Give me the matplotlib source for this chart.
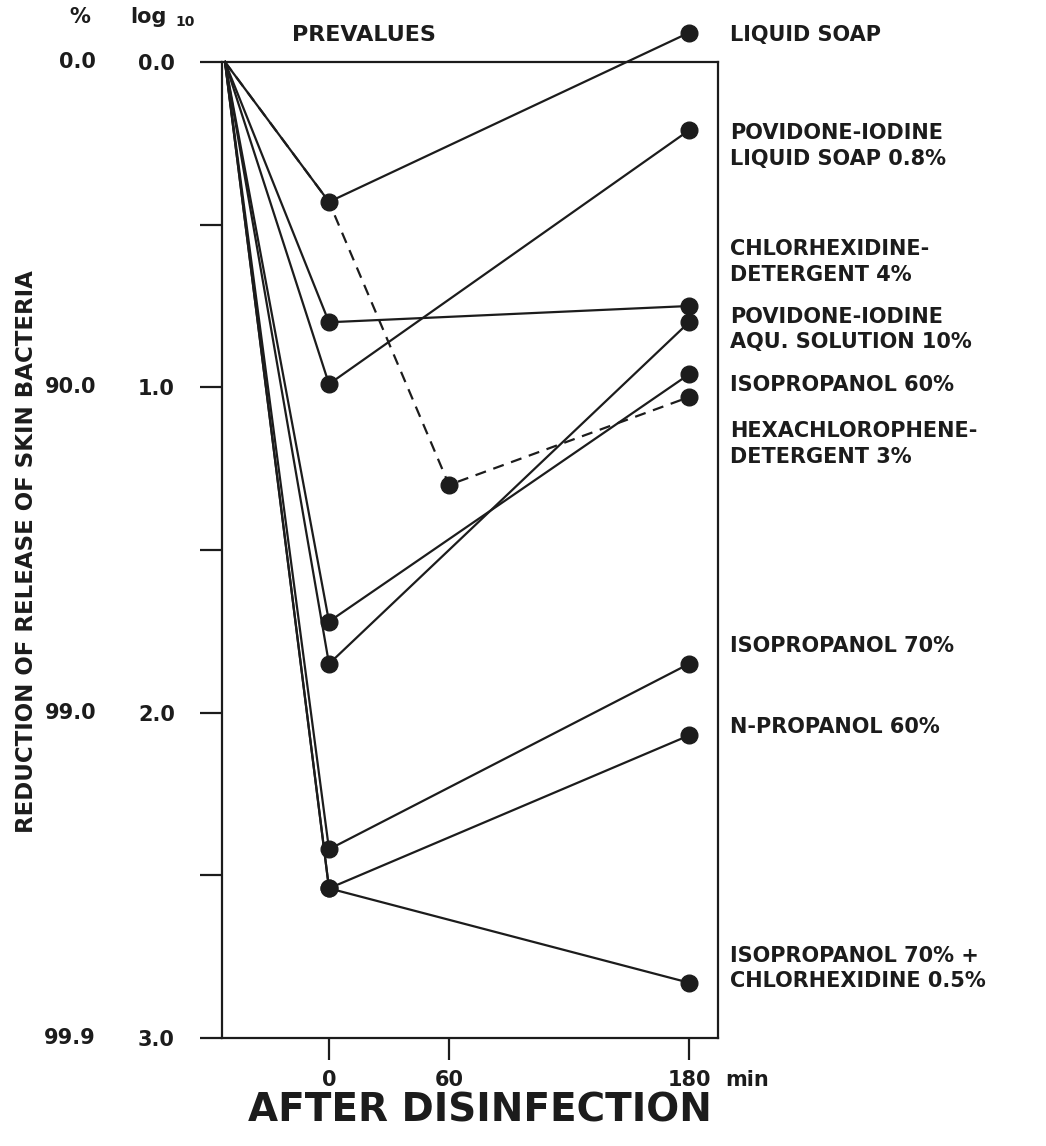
import matplotlib
matplotlib.use("Agg")
import matplotlib.pyplot as plt
import matplotlib.transforms as mtransforms

# ---------------- data ----------------
prevalue_time = -52          # position of the pre-values column (min)
times_main = [0, 180]        # minutes after disinfection
series_names = [
    "LIQUID SOAP",
    "POVIDONE-IODINE\nLIQUID SOAP 0.8%",
    "CHLORHEXIDINE-\nDETERGENT 4%",
    "POVIDONE-IODINE\nAQU. SOLUTION 10%",
    "ISOPROPANOL 60%",
    "HEXACHLOROPHENE-\nDETERGENT 3%",
    "ISOPROPANOL 70%",
    "N-PROPANOL 60%",
    "ISOPROPANOL 70% +\nCHLORHEXIDINE 0.5%",
]
log_red_0min = [0.43, 0.99, 0.80, 1.85, 1.72, 0.43, 2.42, 2.54, 2.54]
log_red_180min = [-0.09, 0.21, 0.75, 0.80, 0.96, 1.03, 1.85, 2.07, 2.83]
hexa_time_60 = 60
hexa_log_red_60min = 1.30
dashed_series = "HEXACHLOROPHENE-\nDETERGENT 3%"

ytick_log = [0.0, 1.0, 2.0, 3.0]
ytick_log_labels = ["0.0", "1.0", "2.0", "3.0"]
ytick_pct_labels = ["0.0", "90.0", "99.0", "99.9"]
xtick_vals = [0, 60, 180]
xtick_labels = ["0", "60", "180"]

# label layout (vertical centre of each right-hand label, in log units)
label_y = [-0.083, 0.258, 0.615, 0.822, 0.994, 1.175, 1.794, 2.043, 2.786]

# ---------------- figure ----------------
W, H = 1046, 1146
fig = plt.figure(figsize=(W / 100, H / 100), dpi=100)
fig.patch.set_facecolor("white")
ink = "#1c1c1c"
FONT = "DejaVu Sans"

ax = fig.add_axes([222 / W, 1 - 1038 / H, (718 - 222) / W, (1038 - 62) / H])
ax.set_xlim(-53.5, 194.5)
ax.set_ylim(3.0, 0.0)

for name, v0, v180 in zip(series_names, log_red_0min, log_red_180min):
    if name == dashed_series:
        xs = [prevalue_time, 0, hexa_time_60, 180]
        ys = [0.0, v0, hexa_log_red_60min, v180]
        ax.plot(xs, ys, color=ink, lw=1.6, ls=(0, (5, 3.5)), clip_on=False, zorder=3)
        ax.plot(xs[2:], ys[2:], ls="none", marker="o", ms=12, color=ink,
                clip_on=False, zorder=4)
    else:
        xs = [prevalue_time] + times_main
        ys = [0.0, v0, v180]
        ax.plot(xs, ys, color=ink, lw=1.6, clip_on=False, zorder=3)
        ax.plot(xs[1:], ys[1:], ls="none", marker="o", ms=12, color=ink,
                clip_on=False, zorder=4)

for sp in ax.spines.values():
    sp.set_linewidth(1.6)
    sp.set_color(ink)

ax.set_yticks([0, 0.5, 1.0, 1.5, 2.0, 2.5, 3.0])
ax.set_yticklabels(["0.0", "", "1.0", "", "2.0", "", "3.0"])
ax.set_xticks(xtick_vals)
ax.set_xticklabels(xtick_labels)
ax.tick_params(axis="y", direction="out", length=16, width=1.6, color=ink,
               pad=18, labelsize=15, labelcolor=ink)
ax.tick_params(axis="x", direction="out", length=16, width=1.6, color=ink,
               pad=7, labelsize=15, labelcolor=ink)
for lab in ax.get_yticklabels() + ax.get_xticklabels():
    lab.set_fontfamily(FONT)
    lab.set_fontweight("bold")

# "min" after 180
ax.annotate("min", xy=(180, 3.0), xycoords="data", xytext=(36, -32),
            textcoords="offset pixels", ha="left", va="top",
            fontsize=15, fontweight="bold", family=FONT, color=ink,
            annotation_clip=False)

# percent column
trans_y = mtransforms.blended_transform_factory(ax.transAxes, ax.transData)
for yv, lab in zip(ytick_log, ytick_pct_labels):
    ax.text((96 - 222) / 496, yv, lab, transform=trans_y, ha="right", va="center",
            fontsize=15, fontweight="bold", family=FONT, color=ink, clip_on=False)

# right-hand labels
for name, yl in zip(series_names, label_y):
    ax.text((730 - 222) / 496, yl, name, transform=trans_y, ha="left", va="center",
            fontsize=15, fontweight="bold", family=FONT, color=ink,
            linespacing=1.35, clip_on=False)

# header texts
fig.text(80 / W, 1 - 17 / H, "%", ha="center", va="center", fontsize=15,
         fontweight="bold", family=FONT, color=ink)
fig.text(130 / W, 1 - 17 / H, "log", ha="left", va="center", fontsize=15,
         fontweight="bold", family=FONT, color=ink)
fig.text(175 / W, 1 - 22 / H, "10", ha="left", va="center", fontsize=10,
         fontweight="bold", family=FONT, color=ink)
fig.text(292 / W, 1 - 35 / H, "PREVALUES", ha="left", va="center", fontsize=16,
         fontweight="bold", family=FONT, color=ink)

# axis titles
fig.text(27 / W, 1 - 552 / H, "REDUCTION OF RELEASE OF SKIN BACTERIA",
         rotation=90, ha="center", va="center", fontsize=16.5, fontweight="bold",
         family=FONT, color=ink)
fig.text(480 / W, 1 - 1111 / H, "AFTER DISINFECTION", ha="center", va="center",
         fontsize=28, fontweight="bold", family=FONT, color=ink)

fig.savefig("out.png", dpi=100, facecolor="white")
